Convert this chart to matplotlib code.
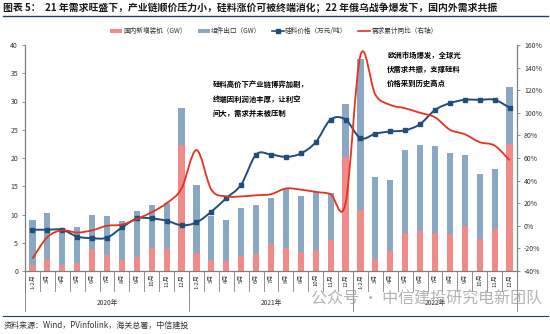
import numpy as np
import matplotlib
matplotlib.use("Agg")
import matplotlib.pyplot as plt
from matplotlib.path import Path
from matplotlib.patches import PathPatch, Patch
from matplotlib.lines import Line2D

plt.rcParams['font.family'] = ['Noto Sans CJK SC', 'DejaVu Sans']

# categories
months = ['1-2月', '3月', '4月', '5月', '6月', '7月', '8月', '9月', '10月', '11月', '12月']
years = ['2020年', '2021年', '2022年']
labels = months * len(years)

# domestic new installations (GW)
domestic = [1.0, 2.2, 1.1, 1.4, 3.9, 2.8, 2.0, 2.4, 4.1, 3.9, 22.3,
            3.2, 2.0, 1.7, 2.7, 3.0, 4.8, 4.0, 3.4, 3.7, 5.5, 20.1,
            10.8, 2.2, 3.5, 6.7, 7.0, 6.7, 6.6, 8.0, 5.6, 7.4, 22.5]
# module exports (GW), stacked on top of domestic
exports = [8.0, 8.0, 6.5, 6.3, 6.0, 6.9, 6.9, 8.3, 7.6, 8.1, 6.5,
           12.0, 7.7, 7.3, 8.4, 8.6, 8.1, 10.5, 9.9, 10.3, 8.3, 9.4,
           26.8, 14.5, 12.6, 14.8, 15.3, 15.5, 14.2, 12.6, 11.6, 10.7, 10.0]
# polysilicon price (10k RMB / t)
price = [7.3, 7.3, 7.3, 6.1, 5.8, 5.9, 7.7, 9.3, 9.3, 8.9, 8.1,
         8.6, 10.5, 12.9, 15.3, 20.6, 20.6, 20.2, 20.8, 22.8, 26.8, 26.8,
         23.5, 24.3, 24.7, 24.9, 26.0, 28.5, 29.7, 30.3, 30.3, 30.3, 28.9]
# cumulative demand yoy (%), right axis
demand_yoy = [-29, -10, -4, -6, -4, 0, 1, 6, 12, 20, 33,
              67, 32, 26, 26, 27, 28, 33, 32, 30, 28, 20,
              151, 116, 107, 104, 100, 96, 85, 81, 74, 71, 58]

PINK = '#F08B89'
BLUE = '#8AA7C3'
NAVY = '#1F4E7A'
RED = '#E8321E'


def smooth_path(xs, ys):
    """Catmull-Rom style smoothed path through the points (like Excel smoothed lines)."""
    pts = np.column_stack([xs, ys]).astype(float)
    verts = [pts[0]]
    codes = [Path.MOVETO]
    n = len(pts)
    for i in range(n - 1):
        p0 = pts[i - 1] if i > 0 else pts[i]
        p1 = pts[i]
        p2 = pts[i + 1]
        p3 = pts[i + 2] if i + 2 < n else pts[i + 1]
        c1 = p1 + (p2 - p0) / 6.0
        c2 = p2 - (p3 - p1) / 6.0
        verts += [c1, c2, p2]
        codes += [Path.CURVE4] * 3
    return Path(verts, codes)


fig = plt.figure(figsize=(5.5, 3.34), dpi=100)
ax = fig.add_axes([25 / 550, 1 - 271 / 334, (517 - 25) / 550, (271 - 45) / 334])
ax2 = ax.twinx()

x = np.arange(len(labels))
ax.bar(x, domestic, width=0.42, color=PINK, zorder=2)
ax.bar(x, exports, width=0.42, bottom=domestic, color=BLUE, zorder=2)

ax.add_patch(PathPatch(smooth_path(x, price), fill=False, edgecolor=NAVY, lw=1.4, zorder=3))
ax.plot(x, price, ls='none', marker='s', ms=2.6, color=NAVY, zorder=4)
ax2.add_patch(PathPatch(smooth_path(x, demand_yoy), fill=False, edgecolor=RED, lw=1.3, zorder=3))

ax.set_xlim(-0.5, len(labels) - 0.5)
ax.set_ylim(0, 40)
ax2.set_ylim(-40, 160)
ax.set_yticks(range(0, 41, 5))
ax2.set_yticks(range(-40, 161, 20))
ax2.set_yticklabels([f'{v}%' for v in range(-40, 161, 20)])

for a in (ax, ax2):
    a.spines['top'].set_visible(False)
    for side in ('left', 'right', 'bottom'):
        a.spines[side].set_color('#7f7f7f')
        a.spines[side].set_linewidth(0.8)
    a.tick_params(axis='y', labelsize=5, length=2, width=0.6, color='#7f7f7f',
                  labelcolor='#333333', pad=3)

ax.set_xticks(x)
ax.set_xticklabels(labels, rotation=90, fontsize=4.3, color='#333333', va='top')
ax.tick_params(axis='x', length=0, pad=2)

# category boxes and year separators under the axis
trans = ax.get_xaxis_transform()
for i in range(len(labels) + 1):
    ax.plot([i - 0.5, i - 0.5], [0, -0.09], transform=trans, color='#7f7f7f',
            lw=0.6, clip_on=False)
for k, yr in enumerate(years):
    start = k * len(months) - 0.5
    ax.plot([start, start], [0, -0.175], transform=trans, color='#7f7f7f',
            lw=0.6, clip_on=False)
    ax.text(start + len(months) / 2, -0.14, yr, transform=trans, ha='center',
            va='center', fontsize=4.8, color='#333333')
ax.plot([len(labels) - 0.5] * 2, [0, -0.175], transform=trans, color='#7f7f7f',
        lw=0.6, clip_on=False)

# annotations
ax.text(12.1, 30.5, '硅料高价下产业链博弈加剧，\n终端因利润池丰厚，让利空\n间大，需求并未被压制',
        fontsize=5.3, fontweight='bold', va='center', ha='left', linespacing=2.0)
ax.text(23.8, 35.7, '欧洲市场爆发，全球光\n伏需求共振，支撑硅料\n价格来到历史高点',
        fontsize=5.3, fontweight='bold', va='center', ha='left', linespacing=2.0)

# legend
handles = [
    Patch(facecolor=PINK, edgecolor='none'),
    Patch(facecolor=BLUE, edgecolor='none'),
    Line2D([], [], color=NAVY, lw=1.2, marker='s', ms=2.5),
    Line2D([], [], color=RED, lw=1.2),
]
names = ['国内新增装机（GW）', '组件出口（GW）', '硅料价格（万元/吨）', '需求累计同比（右轴）']
fig.legend(handles, names, loc='center', bbox_to_anchor=(0.498, 1 - 31 / 334), ncol=4,
           frameon=False, fontsize=4.8, handlelength=1.8, handleheight=0.5,
           columnspacing=1.6, handletextpad=0.2, labelcolor='#333333')

# title, rules, source and watermark
fig.text(0.006, 1 - 8 / 334, '图表 5：  21 年需求旺盛下，产业链顺价压力小，硅料涨价可被终端消化；22 年俄乌战争爆发下，国内外需求共振',
         fontsize=7.1, fontweight='bold', va='center', ha='left', color='#1a1a1a')
fig.add_artist(Line2D([0.005, 0.997], [1 - 15.5 / 334] * 2, color='#1F3F6E', lw=1.0))
fig.add_artist(Line2D([0.005, 0.997], [1 - 316 / 334] * 2, color='#1F3F6E', lw=0.8))
fig.text(0.006, 1 - 325 / 334, '资料来源：Wind，PVinfolink，海关总署，中信建投',
         fontsize=5.8, style='italic', va='center', ha='left', color='#333333')
fig.text(0.985, 1 - 299 / 334, '公众号 · 中信建投研究电新团队', fontsize=11.5,
         color='#9a9a9a', alpha=0.75, va='center', ha='right')

fig.savefig('out.png', dpi=100)
